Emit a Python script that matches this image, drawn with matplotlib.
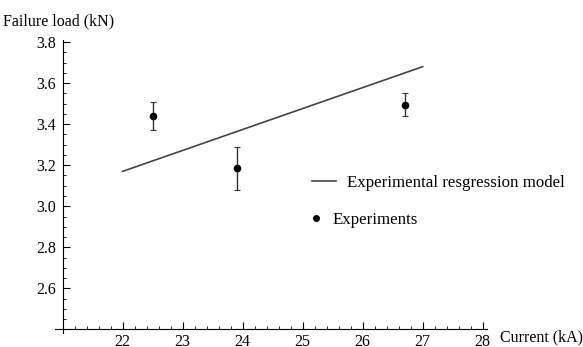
import numpy as np
import matplotlib.pyplot as plt
from matplotlib.ticker import MultipleLocator
from matplotlib.lines import Line2D

current = [22.5, 23.9, 26.7]
load = [3.44, 3.185, 3.495]
load_err = [0.07, 0.105, 0.055]

# regression line end points
line_x = [22.0, 27.0]
line_y = [3.17, 3.68]

plt.rcParams['font.family'] = ['Liberation Serif', 'DejaVu Serif']
plt.rcParams['font.size'] = 11.5

fig = plt.figure(figsize=(5.83, 3.47), dpi=100)
ax = fig.add_axes([0.094, 0.0447, 0.741, 0.84])

ax.plot(line_x, line_y, color='#444444', lw=1.2)
ax.errorbar(current, load, yerr=load_err, fmt='o', color='black', ms=4.5,
            ecolor='#333333', elinewidth=1.0, capsize=2.5, capthick=0.8)

ax.set_xlim(20.87, 28.07)
ax.set_ylim(2.39, 3.81)
for s in ['top', 'right']:
    ax.spines[s].set_visible(False)
ax.spines['left'].set_position(('data', 21))
ax.spines['bottom'].set_position(('data', 2.4))
ax.spines['left'].set_bounds(2.385, 3.81)
ax.spines['bottom'].set_bounds(20.87, 28.07)

ax.set_xticks([22, 23, 24, 25, 26, 27, 28])
ax.set_yticks([2.6, 2.8, 3.0, 3.2, 3.4, 3.6, 3.8])
ax.xaxis.set_minor_locator(MultipleLocator(0.2))
ax.yaxis.set_minor_locator(MultipleLocator(0.05))
ax.tick_params(which='major', direction='in', length=5, width=0.8)
ax.tick_params(axis='y', which='major', pad=5)
ax.tick_params(which='minor', direction='in', length=2.5, width=0.6)
ax.set_yticklabels(['2.6', '2.8', '3.0', '3.2', '3.4', '3.6', '3.8'])

fig.text(0.005, 0.937, 'Failure load (kN)', ha='left', va='center')
fig.text(0.857, 0.027, 'Current (kA)', ha='left', va='center')

# two legends so the dot entry gets a shorter handle, like the original
leg1 = ax.legend([Line2D([], [], color='#444444', lw=1.2)],
                 ['Experimental resgression model'],
                 loc='center left', bbox_to_anchor=(0.595, 0.509), frameon=False,
                 borderaxespad=0, borderpad=0, handlelength=1.4,
                 handletextpad=0.7, fontsize=12.2)
ax.add_artist(leg1)
ax.legend([Line2D([], [], color='black', marker='o', ms=4, ls='none')],
          ['Experiments'],
          loc='center left', bbox_to_anchor=(0.595, 0.382), frameon=False,
          borderaxespad=0, borderpad=0, handlelength=0.45,
          handletextpad=0.8, fontsize=12.2)

fig.savefig('out.png', dpi=100)
